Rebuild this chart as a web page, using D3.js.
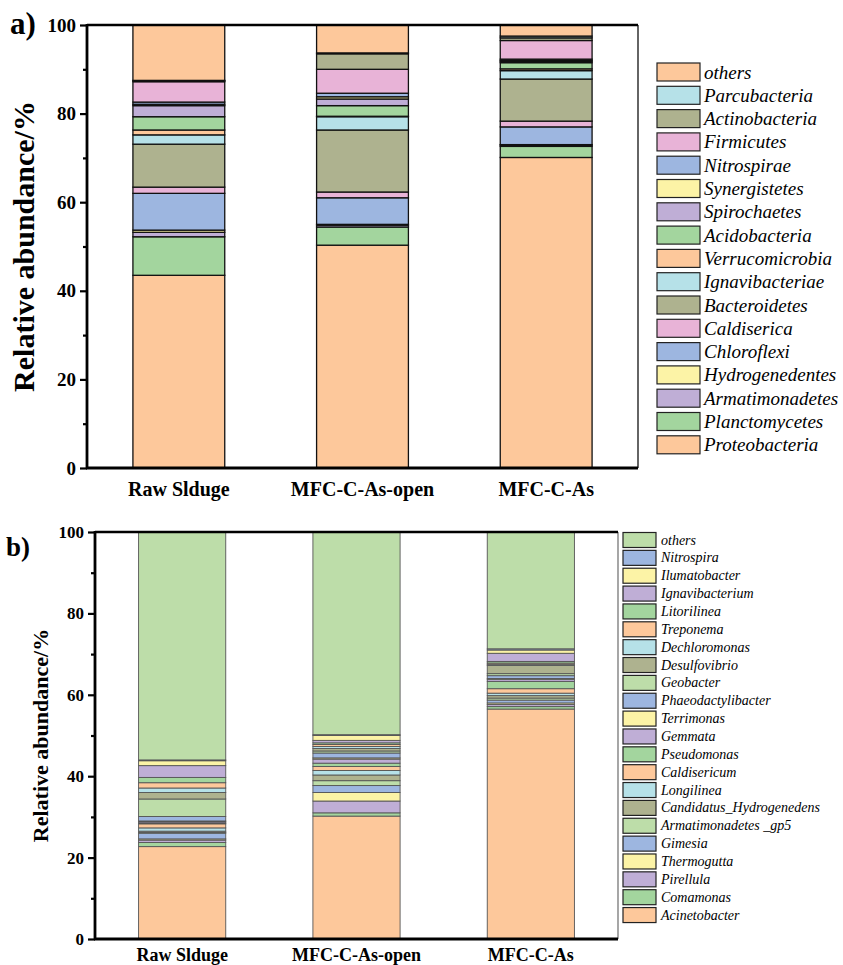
<!DOCTYPE html>
<html>
<head>
<meta charset="utf-8">
<script src="https://cdn.jsdelivr.net/npm/d3@7.9.0/dist/d3.min.js"></script>
<style>
  body { margin: 0; background: #fff; }
  svg text { font-family: "Liberation Serif", "DejaVu Serif", serif; }
</style>
</head>
<body>
<svg id="vis"></svg>
<script>
const width = 843;
const height = 965;
const serif = '"Liberation Serif", "DejaVu Serif", serif';

// --- data ---
const samples = ["Raw Slduge", "MFC-C-As-open", "MFC-C-As"];
const yTicks = [0, 20, 40, 60, 80, 100];
const yMinor = [10, 30, 50, 70, 90];

// panel a: phylum level, bottom to top
const phyla = ["Proteobacteria", "Planctomycetes", "Armatimonadetes", "Hydrogenedentes",
  "Chloroflexi", "Caldiserica", "Bacteroidetes", "Ignavibacteriae", "Verrucomicrobia",
  "Acidobacteria", "Spirochaetes", "Synergistetes", "Nitrospirae", "Firmicutes",
  "Actinobacteria", "Parcubacteria", "others"];
const phylaRaw  = [43.5, 8.7, 1.0, 0.5, 8.3, 1.4, 9.7, 2.1, 1.1, 3.0, 2.5, 0.3, 0.5, 4.6, 0.2, 0.1, 12.5];
const phylaOpen = [50.3, 4.1, 0.4, 0.2, 6.0, 1.3, 14.0, 3.0, 0.1, 2.4, 1.5, 0.5, 0.8, 5.4, 3.5, 0.2, 6.3];
const phylaMfc  = [70.1, 2.5, 0.3, 0.1, 4.0, 1.3, 9.5, 1.9, 0.4, 1.4, 0.3, 0.2, 0.3, 4.2, 0.6, 0.4, 2.5];

// panel b: genus level, bottom to top
const genera = ["Acinetobacter", "Comamonas", "Pirellula", "Thermogutta", "Gimesia",
  "Armatimonadetes _gp5", "Candidatus_Hydrogenedens", "Longilinea", "Caldisericum",
  "Pseudomonas", "Gemmata", "Terrimonas", "Phaeodactylibacter", "Geobacter",
  "Desulfovibrio", "Dechloromonas", "Treponema", "Litorilinea", "Ignavibacterium",
  "Ilumatobacter", "Nitrospira", "others"];
const generaRaw  = [22.7, 1.0, 0.6, 0.3, 1.4, 0.2, 0.3, 0.8, 1.0, 0.2, 0.3, 0.2, 1.1, 4.3, 1.6, 1.1, 1.3, 1.3, 2.9, 1.2, 0.2, 56.0];
const generaOpen = [30.2, 0.8, 2.9, 2.1, 1.7, 1.2, 1.4, 1.1, 1.0, 0.8, 1.0, 0.3, 1.2, 0.5, 0.6, 0.5, 0.5, 0.4, 0.6, 1.2, 0.2, 49.8];
const generaMfc  = [56.5, 0.6, 0.5, 0.4, 0.7, 0.5, 0.6, 0.6, 1.1, 1.8, 0.5, 0.2, 0.7, 0.5, 2.0, 0.3, 0.3, 0.4, 2.0, 0.8, 0.3, 28.7];

const paletteA = ["#FDC89B", "#A3D59E", "#BFAED6", "#FCF3A6", "#9DB6E0", "#E8B3D7", "#AEB28F", "#B6E1E8"];
const paletteB = ["#FDC89B", "#A3D59E", "#BFAED6", "#FCF3A6", "#9DB6E0", "#BDDDA9", "#AEB28F", "#B6E1E8"];

const vis = d3.select("#vis")
    .attr("width", width)
    .attr("height", height);

function buildRows(names, series) {
    return samples.map((s, i) => {
        const row = { sample: s };
        names.forEach((n, j) => { row[n] = series[i][j]; });
        return row;
    });
}

function drawPanel(opt) {
    const g = vis.append("g");
    const rows = buildRows(opt.names, opt.series);
    const stacked = d3.stack().keys(opt.names)(rows);

    const x = d3.scaleBand()
        .domain(samples)
        .range([opt.left, opt.right])
        .paddingInner(0.5)
        .paddingOuter(0.25);

    const y = d3.scaleLinear()
        .domain([0, 100])
        .range([opt.bottom, opt.top]);

    const color = d3.scaleOrdinal()
        .domain(opt.names)
        .range(opt.names.map((d, i) => opt.palette[i % opt.palette.length]));

    // bars
    g.selectAll("g.layer")
        .data(stacked)
        .join("g")
        .attr("class", "layer")
        .attr("fill", d => color(d.key))
        .selectAll("rect")
        .data(d => d)
        .join("rect")
        .attr("x", d => x(d.data.sample))
        .attr("y", d => y(d[1]))
        .attr("width", x.bandwidth())
        .attr("height", d => y(d[0]) - y(d[1]))
        .attr("stroke", opt.barStroke)
        .attr("stroke-width", opt.barStrokeWidth);

    // frame: right and top
    g.append("line")
        .attr("x1", opt.right).attr("x2", opt.right)
        .attr("y1", opt.top).attr("y2", opt.bottom)
        .attr("stroke", opt.rightStroke).attr("stroke-width", 1.3);
    g.append("line")
        .attr("x1", opt.left).attr("x2", opt.right)
        .attr("y1", opt.top).attr("y2", opt.top)
        .attr("stroke", "#000").attr("stroke-width", 2.5);

    // y axis major + minor
    const yAxis = g.append("g")
        .attr("transform", `translate(${opt.left},0)`)
        .call(d3.axisLeft(y).tickValues(yTicks).tickSize(7).tickPadding(4));
    yAxis.select(".domain").remove();
    yAxis.selectAll(".tick line").attr("stroke-width", 2.2);
    yAxis.selectAll(".tick text")
        .style("font-family", serif)
        .style("font-weight", "bold")
        .style("font-size", opt.tickFont + "px")
        .attr("fill", "#000");

    const yMinorAxis = g.append("g")
        .attr("transform", `translate(${opt.left},0)`)
        .call(d3.axisLeft(y).tickValues(yMinor).tickSize(4).tickFormat(""));
    yMinorAxis.select(".domain").remove();
    yMinorAxis.selectAll(".tick line").attr("stroke-width", 2.2);

    g.append("line")
        .attr("x1", opt.left).attr("x2", opt.left)
        .attr("y1", opt.top - 1).attr("y2", opt.bottom + 1)
        .attr("stroke", "#000").attr("stroke-width", 2.8);
    g.append("line")
        .attr("x1", opt.left - 1).attr("x2", opt.right)
        .attr("y1", opt.bottom).attr("y2", opt.bottom)
        .attr("stroke", "#000").attr("stroke-width", 2.8);

    // x labels
    const xAxis = g.append("g")
        .attr("transform", `translate(0,${opt.bottom})`)
        .call(d3.axisBottom(x).tickSize(0).tickPadding(opt.xPad));
    xAxis.select(".domain").remove();
    xAxis.selectAll(".tick text")
        .style("font-family", serif)
        .style("font-weight", "bold")
        .style("font-size", opt.xFont + "px")
        .attr("fill", "#000");

    // y title
    g.append("text")
        .attr("transform", `translate(${opt.titleX},${(opt.top + opt.bottom) / 2}) rotate(-90)`)
        .attr("text-anchor", "middle")
        .attr("dominant-baseline", "central")
        .style("font-family", serif)
        .style("font-weight", "bold")
        .style("font-size", opt.titleFont + "px")
        .text("Relative abundance/%");

    // panel letter
    g.append("text")
        .attr("x", opt.letterX)
        .attr("y", opt.letterY)
        .style("font-family", serif)
        .style("font-weight", "bold")
        .style("font-size", opt.letterFont + "px")
        .text(opt.letter);

    // legend, top entry is "others"
    const legendItems = opt.names.slice().reverse();
    const lg = g.append("g");
    const item = lg.selectAll("g")
        .data(legendItems)
        .join("g")
        .attr("transform", (d, i) => `translate(${opt.legX},${opt.legY + i * opt.legStep})`);
    item.append("rect")
        .attr("x", 0)
        .attr("y", -opt.swH / 2)
        .attr("width", opt.swW)
        .attr("height", opt.swH)
        .attr("fill", d => color(d))
        .attr("stroke", "#222")
        .attr("stroke-width", 1.2);
    item.append("text")
        .attr("x", opt.swW + opt.textGap)
        .attr("y", 0)
        .attr("dominant-baseline", "central")
        .style("font-family", serif)
        .style("font-style", "italic")
        .style("font-size", opt.legFont + "px")
        .text(d => d);
}

drawPanel({
    names: phyla,
    series: [phylaRaw, phylaOpen, phylaMfc],
    palette: paletteA,
    left: 87, right: 638, top: 25, bottom: 468,
    barStroke: "#111", barStrokeWidth: 1.3, rightStroke: "#111",
    tickFont: 19, xFont: 20, xPad: 14, titleFont: 30, titleX: 23,
    letter: "a)", letterX: 10, letterY: 34, letterFont: 31,
    legX: 657, legY: 72, legStep: 23.3, swW: 43, swH: 18, textGap: 4, legFont: 19
});

drawPanel({
    names: genera,
    series: [generaRaw, generaOpen, generaMfc],
    palette: paletteB,
    left: 95, right: 618, top: 532, bottom: 939,
    barStroke: "#555", barStrokeWidth: 0.9, rightStroke: "#777",
    tickFont: 17, xFont: 18, xPad: 9, titleFont: 22, titleX: 40,
    letter: "b)", letterX: 6, letterY: 556, letterFont: 27,
    legX: 623, legY: 540, legStep: 17.86, swW: 33, swH: 15, textGap: 5, legFont: 14
});
</script>
</body>
</html>
